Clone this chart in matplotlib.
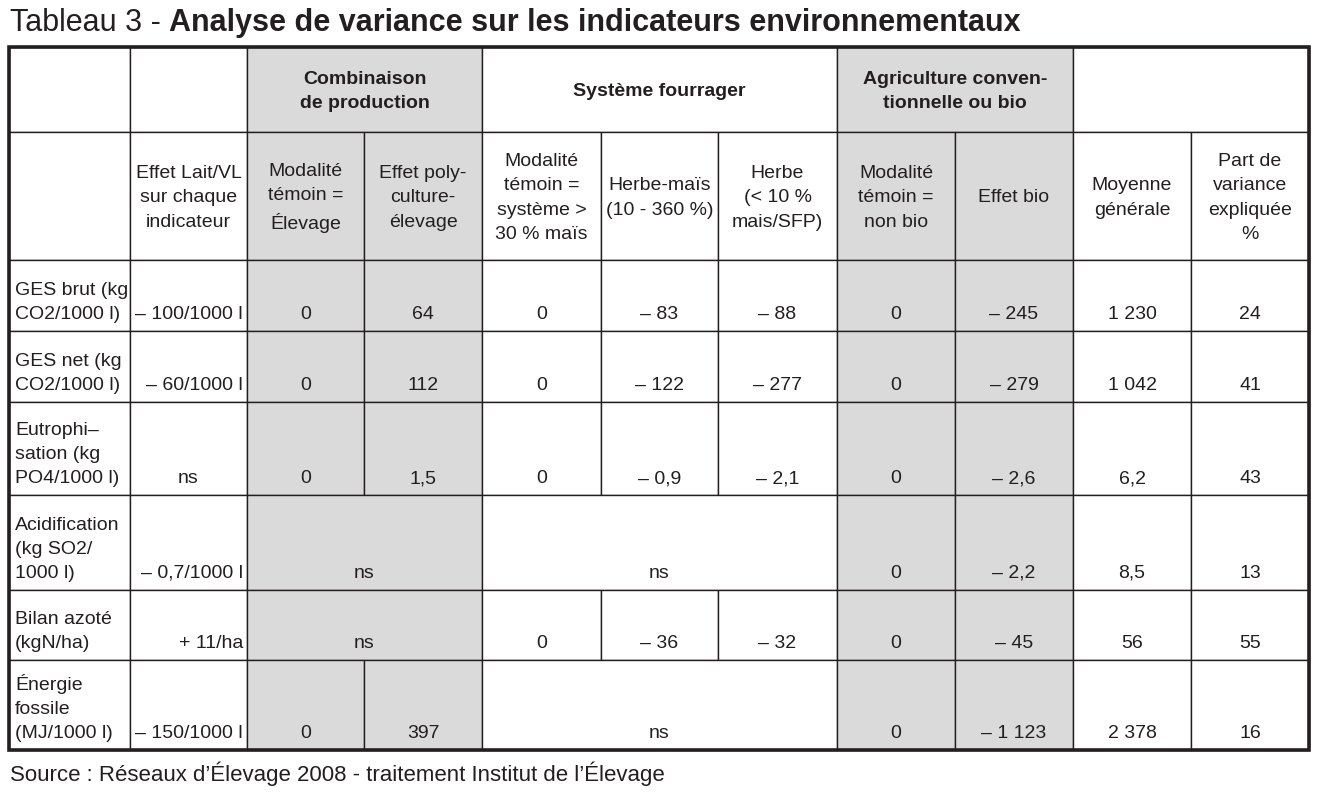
import matplotlib.pyplot as plt
from matplotlib.patches import Rectangle

plt.rcParams['font.family'] = ['Liberation Sans', 'DejaVu Sans']

title_regular = "Tableau 3 - "
title_bold = "Analyse de variance sur les indicateurs environnementaux"
source = "Source : Réseaux d\u2019Élevage 2008 - traitement Institut de l\u2019Élevage"

group_headers = ["", "", "Combinaison\nde production", "Système fourrager",
                 "Agriculture conven-\ntionnelle ou bio", ""]
group_spans = [(0, 0), (1, 1), (2, 3), (4, 6), (7, 8), (9, 10)]

col_headers = ["", "Effet Lait/VL\nsur chaque\nindicateur", "Modalité\ntémoin =\nÉlevage",
               "Effet poly-\nculture-\nélevage", "Modalité\ntémoin =\nsystème >\n30 % maïs",
               "Herbe-maïs\n(10 - 360 %)", "Herbe\n(< 10 %\nmais/SFP)",
               "Modalité\ntémoin =\nnon bio", "Effet bio", "Moyenne\ngénérale",
               "Part de\nvariance\nexpliquée\n%"]

indicateurs = ["GES brut (kg\nCO2/1000 l)", "GES net (kg\nCO2/1000 l)",
               "Eutrophi\u2013\nsation (kg\nPO4/1000 l)", "Acidification\n(kg SO2/\n1000 l)",
               "Bilan azoté\n(kgN/ha)", "Énergie\nfossile\n(MJ/1000 l)"]
effet_lait = ["\u2013 100/1000 l", "\u2013 60/1000 l", "ns", "\u2013 0,7/1000 l",
              "+ 11/ha", "\u2013 150/1000 l"]
temoin_elevage = ["0", "0", "0", "ns", "ns", "0"]
effet_polyculture = ["64", "112", "1,5", "ns", "ns", "397"]
temoin_mais = ["0", "0", "0", "ns", "0", "ns"]
herbe_mais = ["\u2013 83", "\u2013 122", "\u2013 0,9", "ns", "\u2013 36", "ns"]
herbe = ["\u2013 88", "\u2013 277", "\u2013 2,1", "ns", "\u2013 32", "ns"]
temoin_nonbio = ["0", "0", "0", "0", "0", "0"]
effet_bio = ["\u2013 245", "\u2013 279", "\u2013 2,6", "\u2013 2,2", "\u2013 45", "\u2013 1 123"]
moyenne = ["1 230", "1 042", "6,2", "8,5", "56", "2 378"]
part_variance = ["24", "41", "43", "13", "55", "16"]

# layout (pixels)
xs = [9, 130, 247, 364, 482, 601, 718, 837, 955, 1073, 1191, 1309]
ys = [47, 132, 260, 331, 402, 495, 590, 660, 750]
gray_cols = {2, 3, 7, 8}
GRAY = '#dadada'
INK = '#231f20'
FS = 14

fig = plt.figure(figsize=(13.23, 7.96), dpi=100)
ax = fig.add_axes([0, 0, 1, 1])
ax.set_xlim(0, 1323)
ax.set_ylim(796, 0)
ax.axis('off')


def cell(c0, c1, r, text, ha='center', va='center', bold=False, pos='mid'):
    x0, x1 = xs[c0], xs[c1 + 1]
    y0, y1 = ys[r], ys[r + 1]
    fc = GRAY if c0 in gray_cols else 'white'
    ax.add_patch(Rectangle((x0, y0), x1 - x0, y1 - y0, facecolor=fc,
                           edgecolor=INK, linewidth=1.0))
    if not text:
        return
    if ha == 'left':
        tx = x0 + 6
    elif ha == 'right':
        tx = x1 - 4
    else:
        tx = (x0 + x1) / 2
    if pos == 'bottom':
        ty, va = y1 - 8, 'bottom'
    else:
        ty = (y0 + y1) / 2 + 2
    ax.text(tx, ty, text, ha=ha, va=va, fontsize=FS, color=INK,
            fontweight='bold' if bold else 'normal', linespacing=1.55,
            multialignment='left' if ha == 'left' else 'center')


# header rows
for (c0, c1), h in zip(group_spans, group_headers):
    cell(c0, c1, 0, h, bold=True)
for c, h in enumerate(col_headers):
    cell(c, c, 1, h)

# body
for i in range(len(indicateurs)):
    r = i + 2
    cell(0, 0, r, indicateurs[i], ha='left', pos='bottom')
    cell(1, 1, r, effet_lait[i], ha='center' if effet_lait[i] == 'ns' else 'right', pos='bottom')
    for start, vals in [(2, [temoin_elevage[i], effet_polyculture[i]]),
                        (4, [temoin_mais[i], herbe_mais[i], herbe[i]])]:
        if all(v == 'ns' for v in vals):
            cell(start, start + len(vals) - 1, r, 'ns', pos='bottom')
        else:
            for k, v in enumerate(vals):
                cell(start + k, start + k, r, v, pos='bottom')
    for c, col in zip(range(7, 11), [temoin_nonbio, effet_bio, moyenne, part_variance]):
        cell(c, c, r, col[i], pos='bottom')

# outer frame
ax.add_patch(Rectangle((xs[0], ys[0]), xs[-1] - xs[0], ys[-1] - ys[0],
                       fill=False, edgecolor=INK, linewidth=2.6))

t1 = ax.text(10, 31, title_regular, fontsize=22, color=INK, ha='left', va='baseline')
ax.annotate(title_bold, xy=(1, 0), xycoords=t1, fontsize=22, fontweight='bold',
            color=INK, ha='left', va='bottom')
ax.text(10, 781, source, fontsize=16, color=INK, ha='left', va='baseline')

fig.savefig('out.png', dpi=100)
